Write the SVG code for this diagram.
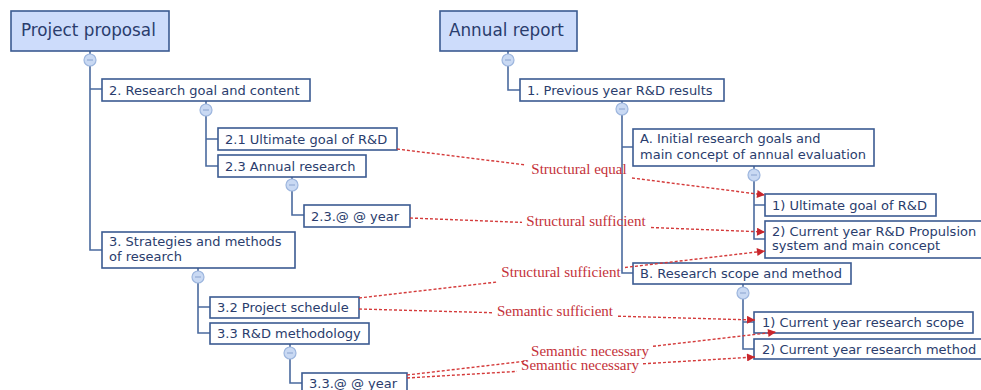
<svg xmlns="http://www.w3.org/2000/svg" width="981" height="390" viewBox="0 0 981 390">
<style>
.bx{fill:#ffffff;stroke:#3b5b92;stroke-width:1.6}
.tb{fill:#cddcfb;stroke:#3b5b92;stroke-width:1.6}
.t{font-family:"DejaVu Sans",Verdana,sans-serif;font-size:13px;fill:#2a3d6d}
.tt{font-family:"DejaVu Sans",Verdana,sans-serif;font-size:16.8px;fill:#2a3d6d}
.tr{fill:none;stroke:#4a6a9e;stroke-width:1.6}
.cc{fill:#c9d9f3;stroke:#9db6de;stroke-width:1.2}
.cm{stroke:#8aa3cf;stroke-width:1}
.ln{fill:none;stroke:#d43a3a;stroke-width:1.4;stroke-dasharray:3,2}
.lb{font-family:"Liberation Serif","Times New Roman",serif;font-size:15px;fill:#c4323a;text-anchor:middle}
</style>
<defs>
<marker id="ah" viewBox="0 0 10 10" refX="10" refY="5" markerWidth="9" markerHeight="8" markerUnits="userSpaceOnUse" orient="auto">
<path d="M0,0 L10,5 L0,10 Z" fill="#c8262c"/>
</marker>
<g id="minus"><circle class="cc" cx="0" cy="0" r="6"/><line class="cm" x1="-3" y1="0" x2="3" y2="0"/></g>
</defs>
<rect width="981" height="390" fill="#ffffff"/>
<g id="tree-lines">
<path class="tr" d="M90,51 V54 M90,66 V250 H102 M90,89 H102"/>
<path class="tr" d="M206,101 V104 M206,116 V166 H218 M206,139 H218"/>
<path class="tr" d="M292,177 V179 M292,191 V215 H304"/>
<path class="tr" d="M198,268 V271 M198,283 V333 H210 M198,307 H210"/>
<path class="tr" d="M290,344 V347 M290,359 V383 H302"/>
<path class="tr" d="M508,51 V54 M508,66 V90 H520"/>
<path class="tr" d="M622,101 V103 M622,115 V273 H633 M622,147 H633"/>
<path class="tr" d="M754,166 V169 M754,181 V239 H765 M754,205 H765"/>
<path class="tr" d="M743,284 V287 M743,299 V349 H754 M743,322 H754"/>
</g>
<g id="n-pp"><rect class="tb" x="11" y="11" width="158" height="40"/><text class="tt" x="21" y="36">Project proposal</text><use href="#minus" x="90" y="60"/></g>
<g id="n-2"><rect class="bx" x="102" y="79" width="208" height="22"/><text class="t" x="109" y="94.5">2. Research goal and content</text><use href="#minus" x="206" y="110"/></g>
<g id="n-21"><rect class="bx" x="218" y="128" width="179" height="22"/><text class="t" x="225" y="143.5">2.1 Ultimate goal of R&amp;D</text></g>
<g id="n-23"><rect class="bx" x="218" y="155" width="148" height="22"/><text class="t" x="225" y="170.5">2.3 Annual research</text><use href="#minus" x="292" y="185"/></g>
<g id="n-23y"><rect class="bx" x="304" y="205" width="106" height="22"/><text class="t" x="311" y="220.5">2.3.@ @ year</text></g>
<g id="n-3"><rect class="bx" x="102" y="232" width="193" height="36"/><text class="t" x="109" y="246">3. Strategies and methods</text><text class="t" x="109" y="261">of research</text><use href="#minus" x="198" y="277"/></g>
<g id="n-32"><rect class="bx" x="210" y="297" width="149" height="21"/><text class="t" x="217" y="312">3.2 Project schedule</text></g>
<g id="n-33"><rect class="bx" x="210" y="323" width="159" height="21"/><text class="t" x="217" y="338">3.3 R&amp;D methodology</text><use href="#minus" x="290" y="353"/></g>
<g id="n-33y"><rect class="bx" x="302" y="373" width="105" height="22"/><text class="t" x="309" y="388">3.3.@ @ year</text></g>
<g id="n-ar"><rect class="tb" x="440" y="11" width="137" height="40"/><text class="tt" x="449" y="36">Annual report</text><use href="#minus" x="508" y="60"/></g>
<g id="n-1"><rect class="bx" x="520" y="79" width="204" height="22"/><text class="t" x="527" y="94.5">1. Previous year R&amp;D results</text><use href="#minus" x="622" y="109"/></g>
<g id="n-A"><rect class="bx" x="633" y="129" width="241" height="37"/><text class="t" x="640" y="143">A. Initial research goals and</text><text class="t" x="640" y="159">main concept of annual evaluation</text><use href="#minus" x="754" y="175"/></g>
<g id="n-A1"><rect class="bx" x="765" y="194" width="171" height="22"/><text class="t" x="772" y="209.5">1) Ultimate goal of R&amp;D</text></g>
<g id="n-A2"><rect class="bx" x="765" y="221" width="225" height="37"/><text class="t" x="772" y="235.5">2) Current year R&amp;D Propulsion</text><text class="t" x="772" y="250">system and main concept</text></g>
<g id="n-B"><rect class="bx" x="633" y="263" width="218" height="21"/><text class="t" x="640" y="278">B. Research scope and method</text><use href="#minus" x="743" y="293"/></g>
<g id="n-B1"><rect class="bx" x="754" y="312" width="219" height="21"/><text class="t" x="762" y="327">1) Current year research scope</text></g>
<g id="n-B2"><rect class="bx" x="754" y="339" width="236" height="20"/><text class="t" x="762" y="354">2) Current year research method</text></g>
<g id="connectors">
<path class="ln" d="M397,149 L526,165"/><path class="ln" d="M632,178 L765,195" marker-end="url(#ah)"/>
<text class="lb" x="579" y="174">Structural equal</text>
<path class="ln" d="M410,218 L522,222.4"/><path class="ln" d="M651,227.5 L765,232" marker-end="url(#ah)"/>
<text class="lb" x="586" y="226">Structural sufficient</text>
<path class="ln" d="M359,298 L497,282"/><path class="ln" d="M625,267.5 L765,251" marker-end="url(#ah)"/>
<text class="lb" x="561" y="277">Structural sufficient</text>
<path class="ln" d="M359,309 L492,312.7"/><path class="ln" d="M618,316.2 L755,320" marker-end="url(#ah)"/>
<text class="lb" x="555" y="316">Semantic sufficient</text>
<path class="ln" d="M407,375 L527,361"/><path class="ln" d="M653,346.3 L776,332" marker-end="url(#ah)"/>
<text class="lb" x="590" y="355.5">Semantic necessary</text>
<path class="ln" d="M407,378 L517,371.4"/><path class="ln" d="M643,363.8 L755,357" marker-end="url(#ah)"/>
<text class="lb" x="580" y="370">Semantic necessary</text>
</g>
</svg>
